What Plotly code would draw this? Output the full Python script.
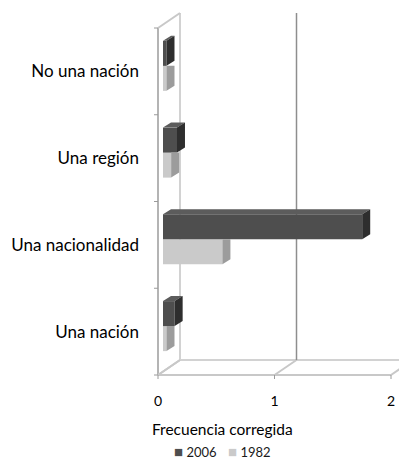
import numpy as np
import plotly.graph_objects as go

# ---------------- data ----------------
categories = ["Una nación", "Una nacionalidad", "Una región", "No una nación"]
series_names = ["2006", "1982"]
values_2006 = [0.10, 1.71, 0.12, 0.03]
values_1982 = [0.03, 0.51, 0.07, 0.03]
x_ticks = [0, 1, 2]
x_title = "Frecuencia corregida"

# ---------------- geometry / style ----------------
# page body has an 8px margin, so figure coords = screen coords - 8
W, H = 407, 459
OFS = 8
L, R, T = 150 - OFS, OFS, 0
PLOT_BOTTOM = 380 - OFS
B = H - PLOT_BOTTOM
PX_X = 116.5          # px per x unit
PX_Y = 86.75          # px per category band
X0_PX = 158 - OFS     # pixel of x = 0
YB_PX = 375 - OFS     # pixel of y = -0.5 (front floor)

x_min = -(X0_PX - L) / PX_X
x_max = (W - R - X0_PX) / PX_X
y_min = -0.5 - (PLOT_BOTTOM - YB_PX) / PX_Y
y_max = -0.5 + (YB_PX - T) / PX_Y
PLOT_H = PLOT_BOTTOM - T
PLOT_W = W - R - L

DX, DY = 22 / PX_X, 15 / PX_Y          # wall depth
SX = 5 / PX_X                           # bar front face offset from x=0
BDX, BDY = 8 / PX_X, 5 / PX_Y           # bar depth
BAR_W = 25 / PX_Y
OFF_06 = 5.5 / PX_Y
OFF_82 = OFF_06 - BAR_W

DARK_FRONT, DARK_TOP, DARK_END = "#4e4e4e", "#5c5c5c", "#2e2e2e"
LIGHT_FRONT, LIGHT_END = "#cacaca", "#9c9c9c"
FONT = "Lato"

pos = np.arange(len(categories))
bounds = np.arange(len(categories) + 1) - 0.5

fig = go.Figure()

# front faces (bars)
fig.add_trace(go.Bar(name=series_names[1], y=pos, x=values_1982, base=SX, orientation="h",
                     width=BAR_W, offset=OFF_82, marker=dict(color=LIGHT_FRONT, line_width=0),
                     hoverinfo="skip", showlegend=False))
fig.add_trace(go.Bar(name=series_names[0], y=pos, x=values_2006, base=SX, orientation="h",
                     width=BAR_W, offset=OFF_06, marker=dict(color=DARK_FRONT, line_width=0),
                     hoverinfo="skip", showlegend=False))


def end_faces(vals, off, trim):
    xs, ys = [], []
    for p, v in zip(pos, vals):
        x1 = SX + v
        yb = p + off
        yt = yb + BAR_W
        xs += [x1, x1, x1 + BDX, x1 + BDX, x1, None]
        ys += [yb, yt, yt if trim else yt + BDY, yb + BDY, yb, None]
    return xs, ys


def top_faces(vals, off):
    xs, ys = [], []
    for p, v in zip(pos, vals):
        yt = p + off + BAR_W
        xs += [SX, SX + v, SX + v + BDX, SX + BDX, SX, None]
        ys += [yt, yt, yt + BDY, yt + BDY, yt, None]
    return xs, ys


xs, ys = end_faces(values_1982, OFF_82, True)
fig.add_trace(go.Scatter(x=xs, y=ys, fill="toself", fillcolor=LIGHT_END, mode="lines",
                         line=dict(width=0, color=LIGHT_END), showlegend=False, hoverinfo="skip"))
xs, ys = top_faces(values_2006, OFF_06)
fig.add_trace(go.Scatter(x=xs, y=ys, fill="toself", fillcolor=DARK_TOP, mode="lines",
                         line=dict(width=0, color=DARK_TOP), showlegend=False, hoverinfo="skip"))
xs, ys = end_faces(values_2006, OFF_06, False)
fig.add_trace(go.Scatter(x=xs, y=ys, fill="toself", fillcolor=DARK_END, mode="lines",
                         line=dict(width=0, color=DARK_END), showlegend=False, hoverinfo="skip"))

# ---------------- walls ----------------
shapes = []


def seg(x0, y0, x1, y1, color, w):
    shapes.append(dict(type="line", xref="x", yref="y", x0=x0, y0=y0, x1=x1, y1=y1,
                       line=dict(color=color, width=w), layer="below"))


ytop, ybot = bounds[-1], bounds[0]
# left wall
seg(0, ybot, 0, ytop, "#b4b4b4", 2)
seg(DX, ybot + DY, DX, ytop + DY, "#d2d2d2", 2)
seg(0, ytop, DX, ytop + DY, "#c8c8c8", 2)
seg(0, ybot, DX, ybot + DY, "#c8c8c8", 2)
# floor
seg(0, ybot, x_ticks[-1], ybot, "#c8c8c8", 2)
seg(DX, ybot + DY, x_ticks[-1] + DX, ybot + DY, "#d2d2d2", 2)
for t in x_ticks:
    seg(t, ybot, t + DX, ybot + DY, "#c8c8c8", 2)
    seg(t, ybot, t, ybot - 4 / PX_Y, "#9a9a9a", 1)
    if t > 0:
        seg(t + DX, ybot + DY, t + DX, ytop + DY, "#8e8e8e", 1.5)
# category ticks
for b in bounds:
    seg(-4 / PX_X, b, 0, b, "#9a9a9a", 1)


def px_to_paper_x(px):
    return (px - OFS - L) / PLOT_W


def px_to_paper_y(py):
    return (PLOT_BOTTOM - (py - OFS)) / PLOT_H


annotations = [dict(text=x_title, xref="paper", yref="paper", x=px_to_paper_x(222),
                    y=px_to_paper_y(429), xanchor="center", yanchor="middle",
                    showarrow=False, font=dict(size=15.5, family=FONT))]
# legend entries (symbol + series name)
legend_colors = [DARK_FRONT, LIGHT_FRONT]
legend_left_px = [173, 227]
for name, col, lx in zip(series_names, legend_colors, legend_left_px):
    annotations.append(dict(
        text=f"<span style='color:{col};font-size:15px'>■</span> {name}",
        xref="paper", yref="paper", x=px_to_paper_x(lx), y=px_to_paper_y(451),
        xanchor="left", yanchor="middle", showarrow=False, borderpad=0,
        font=dict(size=13, family=FONT, color="#1a1a1a")))

fig.update_layout(
    width=W, height=H,
    margin=dict(l=L, r=R, t=T, b=B, autoexpand=False),
    paper_bgcolor="white", plot_bgcolor="white",
    barmode="overlay",
    shapes=shapes,
    font=dict(family=FONT, color="#000000"),
    showlegend=False,
    annotations=annotations,
)
fig.update_xaxes(range=[x_min, x_max], tickvals=x_ticks, ticks="", showgrid=False,
                 zeroline=False, showline=False, tickfont=dict(size=14),
                 ticklabelstandoff=11, automargin=False)
fig.update_yaxes(range=[y_min, y_max], tickvals=pos, ticktext=categories, ticks="",
                 showgrid=False, zeroline=False, showline=False, tickfont=dict(size=17),
                 ticklabelstandoff=10, automargin=False)

fig.write_html("out.html")
